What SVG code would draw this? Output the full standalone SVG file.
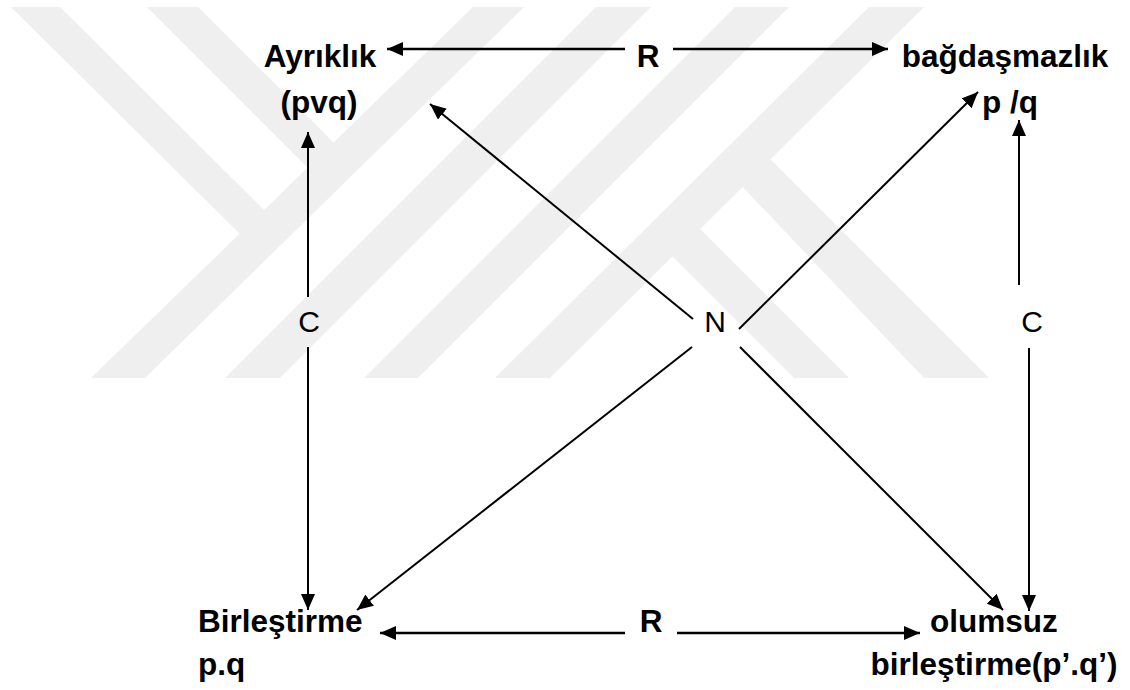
<svg xmlns="http://www.w3.org/2000/svg" width="1130" height="690" viewBox="0 0 1130 690">
<style>
.lbl{font-family:"Liberation Sans",Arial,sans-serif;font-weight:bold;font-size:31.5px;fill:#000}
.sym{font-family:"Liberation Sans",Arial,sans-serif;font-size:30px;fill:#000}
.wm{fill:#efefef;stroke:none}
.c{stroke:#000;stroke-width:2;fill:none;marker-end:url(#ah)}
.r{stroke:#000;stroke-width:2.6;fill:none;marker-end:url(#ah)}
</style>
<defs>
<marker id="ah" viewBox="0 0 16 14" refX="16" refY="7" markerWidth="16" markerHeight="14" markerUnits="userSpaceOnUse" orient="auto">
<path d="M0,0 L16,7 L0,14 z" fill="#000"/>
</marker>
</defs>
<rect width="1130" height="690" fill="#fff"/>
<g id="watermark">
<polygon class="wm" points="473,7 524,7 145,378 91,378"/>
<polygon class="wm" points="11,7 60,7 270,216 246,240"/>
<polygon class="wm" points="147,7 198,7 340,149 314,174"/>
<polygon class="wm" points="596,7 651,7 280,378 225,378"/>
<polygon class="wm" points="735,7 789,7 418,378 364,378"/>
<polygon class="wm" points="869,7 924,7 550,378 495,378"/>
<polygon class="wm" points="765,154 989,378 924,378 737,181"/>
<polygon class="wm" points="692,221 849,378 794,378 663,247"/>
</g>
<g id="connectors">
<line class="r" x1="625" y1="49" x2="387" y2="49"/>
<line class="r" x1="673" y1="49" x2="888" y2="49"/>
<line class="r" x1="625" y1="633" x2="380" y2="633"/>
<line class="r" x1="677" y1="633" x2="920" y2="633"/>
<line class="c" x1="308" y1="297" x2="308" y2="132"/>
<line class="c" x1="308" y1="347" x2="308" y2="610"/>
<line class="c" x1="1019" y1="285" x2="1019" y2="120"/>
<line class="c" x1="1029" y1="348" x2="1029" y2="611"/>
<line class="c" x1="693" y1="319" x2="430" y2="104"/>
<line class="c" x1="739" y1="329" x2="978" y2="92"/>
<line class="c" x1="692" y1="347" x2="357" y2="610"/>
<line class="c" x1="740" y1="347" x2="1003" y2="610"/>
</g>
<g id="ayriklik">
<text class="lbl" x="320" y="67" text-anchor="middle">Ayrıklık</text>
<text class="lbl" x="319" y="113" text-anchor="middle">(pvq)</text>
</g>
<g id="bagdasmazlik">
<text class="lbl" x="1005" y="67" text-anchor="middle">bağdaşmazlık</text>
<text class="lbl" x="982" y="113">p /q</text>
</g>
<g id="birlestirme">
<text class="lbl" x="198" y="632">Birleştirme</text>
<text class="lbl" x="198" y="675">p.q</text>
</g>
<g id="olumsuz">
<text class="lbl" x="994" y="632" text-anchor="middle">olumsuz</text>
<text class="lbl" x="994" y="675" text-anchor="middle">birleştirme(p’.q’)</text>
</g>
<g id="labels">
<text class="lbl" x="648" y="67" text-anchor="middle">R</text>
<text class="lbl" x="651" y="632" text-anchor="middle">R</text>
<text class="sym" x="309" y="332" text-anchor="middle">C</text>
<text class="sym" x="715" y="332" text-anchor="middle">N</text>
<text class="sym" x="1032" y="332" text-anchor="middle">C</text>
</g>
</svg>
